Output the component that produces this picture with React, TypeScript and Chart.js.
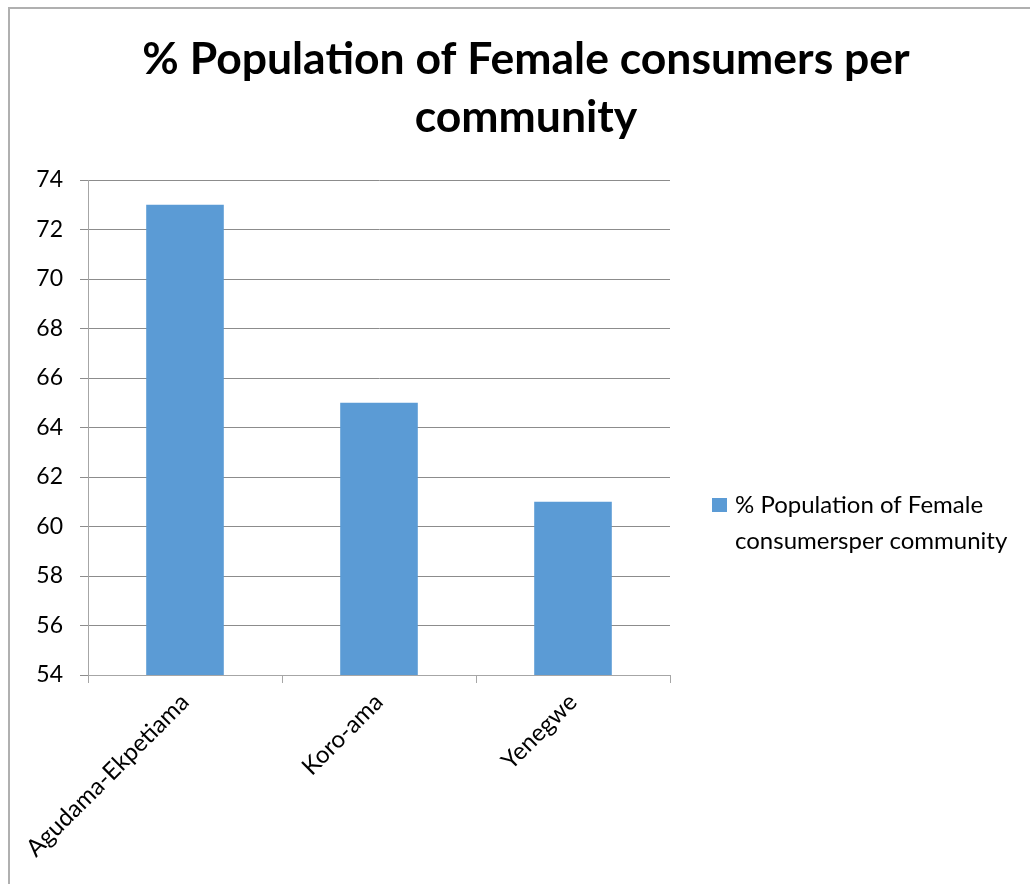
import React, { useEffect, useRef } from 'react';
import { Chart, registerables } from 'chart.js';

Chart.register(...registerables);

// ---- data ----
const CATEGORIES: string[] = ['Agudama-Ekpetiama', 'Koro-ama', 'Yenegwe'];
const VALUES: number[] = [73, 65, 61];
const SERIES_LABEL = '% Population of Female consumersper community';
const TITLE_LINES: string[] = ['% Population of Female consumers per', 'community'];
const Y_MIN = 54;
const Y_MAX = 74;
const Y_STEP = 2;

// ---- styles ----
const BAR_COLOR = '#5b9bd5';
const FONT = 'Lato, "Open Sans", "DejaVu Sans", sans-serif';
const TEXT_COLOR = '#000000';
const GRID_COLOR = '#8c8c8c';
const AXIS_COLOR = '#a6a6a6';
const W = 1030;
const H = 884;

function wrapWords(ctx: CanvasRenderingContext2D, text: string, maxWidth: number): string[] {
  const words = text.split(' ');
  const lines: string[] = [];
  let cur = '';
  for (const w of words) {
    const test = cur ? cur + ' ' + w : w;
    if (ctx.measureText(test).width > maxWidth && cur) {
      lines.push(cur);
      cur = w;
    } else {
      cur = test;
    }
  }
  if (cur) lines.push(cur);
  return lines;
}

const decorPlugin = {
  id: 'decor',
  beforeDraw(chart: any) {
    const ctx: CanvasRenderingContext2D = chart.ctx;
    ctx.save();
    ctx.fillStyle = '#ffffff';
    ctx.fillRect(0, 0, chart.width, chart.height);
    // outer frame (cropped at right/bottom)
    ctx.strokeStyle = '#b0b0b0';
    ctx.lineWidth = 2;
    ctx.beginPath();
    ctx.moveTo(9, chart.height);
    ctx.lineTo(9, 8);
    ctx.lineTo(chart.width, 8);
    ctx.stroke();
    ctx.restore();
  },
  afterDraw(chart: any) {
    const ctx: CanvasRenderingContext2D = chart.ctx;
    ctx.save();
    // title
    ctx.fillStyle = TEXT_COLOR;
    ctx.font = `bold 44.5px ${FONT}`;
    ctx.textAlign = 'center';
    ctx.textBaseline = 'alphabetic';
    TITLE_LINES.forEach((line, i) => {
      ctx.fillText(line, 526, 74 + i * 58);
    });
    // legend
    const ds = chart.data.datasets[0];
    ctx.fillStyle = ds.backgroundColor;
    ctx.fillRect(712, 498, 15, 14);
    ctx.fillStyle = TEXT_COLOR;
    ctx.font = `24px ${FONT}`;
    ctx.textAlign = 'left';
    const lines = wrapWords(ctx, ds.label, 290);
    lines.forEach((line, i) => {
      ctx.fillText(line, 735, 513 + i * 36);
    });
    ctx.restore();
  },
};

export default function App() {
  const canvasRef = useRef<HTMLCanvasElement | null>(null);

  useEffect(() => {
    if (!canvasRef.current) return;
    const chart = new Chart(canvasRef.current, {
      type: 'bar',
      data: {
        labels: CATEGORIES,
        datasets: [
          {
            label: SERIES_LABEL,
            data: VALUES,
            backgroundColor: BAR_COLOR,
            borderWidth: 0,
            barPercentage: 0.4,
            categoryPercentage: 1,
          },
        ],
      },
      options: {
        responsive: false,
        animation: false,
        devicePixelRatio: 1,
        layout: { padding: { top: 180, right: 360, left: 0, bottom: 0 } },
        plugins: {
          legend: { display: false },
          title: { display: false },
          tooltip: { enabled: false },
        },
        scales: {
          x: {
            afterFit: (scale: any) => {
              scale.height = 209;
            },
            grid: {
              display: true,
              offset: true,
              drawOnChartArea: false,
              drawTicks: true,
              tickLength: 8,
              color: AXIS_COLOR,
            },
            border: { display: true, color: AXIS_COLOR, width: 1 },
            ticks: {
              autoSkip: false,
              minRotation: 45,
              maxRotation: 45,
              padding: 5,
              color: TEXT_COLOR,
              font: { family: FONT, size: 24 },
            },
          },
          y: {
            min: Y_MIN,
            max: Y_MAX,
            afterFit: (scale: any) => {
              scale.width = 88;
            },
            grid: {
              color: GRID_COLOR,
              drawTicks: true,
              tickLength: 8,
            },
            border: { display: true, color: AXIS_COLOR, width: 1 },
            ticks: {
              stepSize: Y_STEP,
              padding: 17,
              color: TEXT_COLOR,
              font: { family: FONT, size: 23 },
            },
          },
        },
      },
      plugins: [decorPlugin],
    });
    return () => chart.destroy();
  }, []);

  return (
    <div style={{ position: 'absolute', left: 0, top: 0, width: W, height: H, overflow: 'hidden', background: '#fff' }}>
      <canvas ref={canvasRef} width={W} height={H} style={{ display: 'block', width: W, height: H }} />
    </div>
  );
}
